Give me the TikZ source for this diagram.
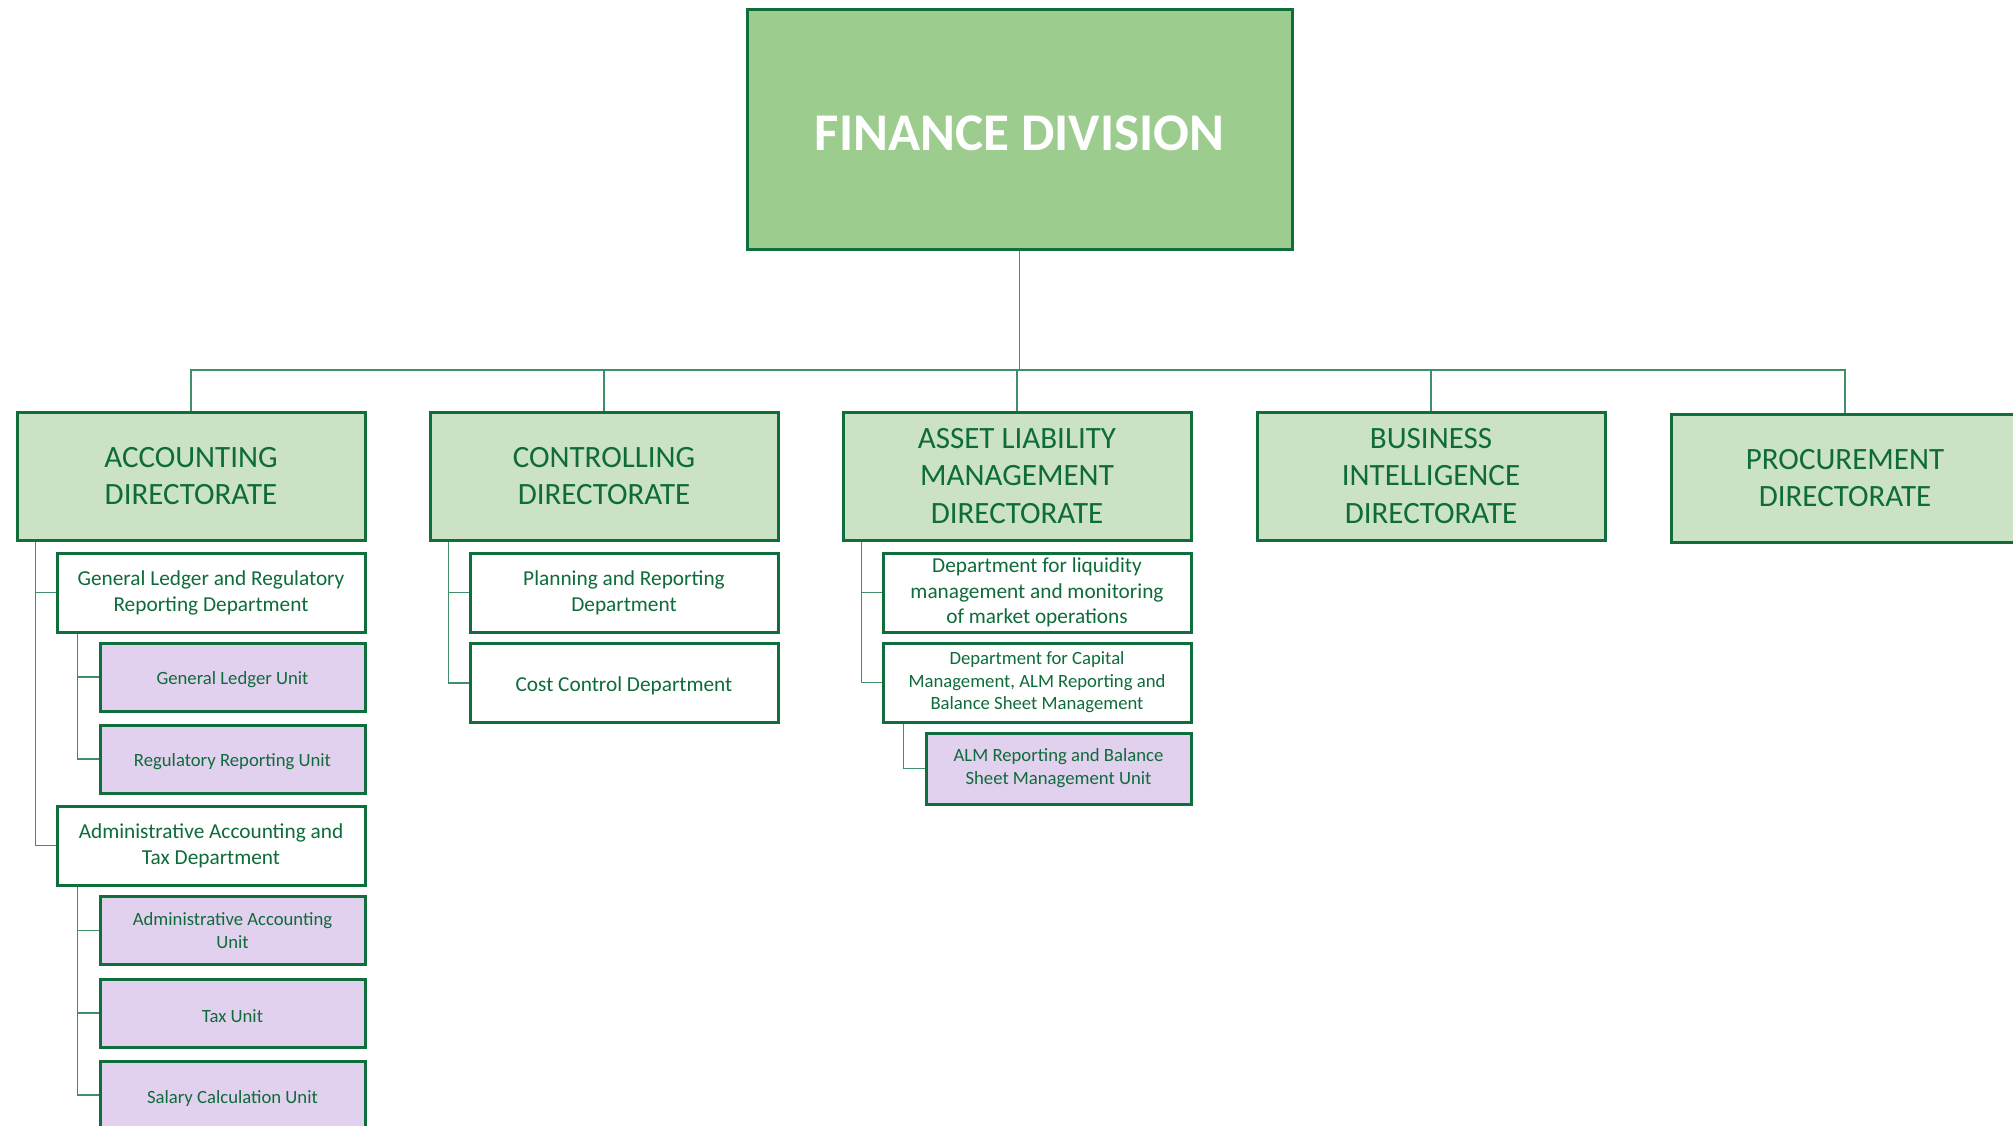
\documentclass[tikz,border=0pt]{standalone}
\usepackage{fontspec}
\setmainfont{Carlito}

\definecolor{boxgreen}{HTML}{0F6E3C}
\definecolor{txtgreen}{HTML}{0E6B3A}
\definecolor{linegreen}{HTML}{3F8F68}
\definecolor{divfill}{HTML}{9DCC8F}
\definecolor{dirfill}{HTML}{CCE2C4}
\definecolor{unitfill}{HTML}{E2D0EF}

\tikzset{
  orgbox/.style={draw=boxgreen, line width=3pt, align=center, text=txtgreen, inner sep=2pt,
    execute at begin node={\rule{0pt}{\dimexpr\fontcharht\font`l+6pt\relax}}},
  divbox/.style={orgbox, fill=divfill, text=white, minimum width=545pt, minimum height=240pt,
    font=\bfseries\fontsize{53}{60}\selectfont},
  dirbox/.style={orgbox, fill=dirfill, minimum width=348pt, minimum height=128pt,
    font=\fontsize{31}{37.6}\selectfont},
  deptbox/.style={orgbox, fill=white, minimum width=308pt, minimum height=79pt,
    font=\fontsize{21.3}{26}\selectfont},
  unitbox/.style={orgbox, fill=unitfill, minimum width=265pt, minimum height=68pt,
    font=\fontsize{18.7}{23}\selectfont},
  link/.style={draw=linegreen, line width=1.4pt},
}

\begin{document}
\begin{tikzpicture}[x=1pt,y=-1pt]
\useasboundingbox (0,0) rectangle (2013,1125);

\node[divbox] (fin) at (1019.5,129) {FINANCE DIVISION};

% directorates
\node[dirbox] (acc) at (191,476) {ACCOUNTING\\DIRECTORATE};
\node[dirbox] (ctrl) at (604,476) {CONTROLLING\\DIRECTORATE};
\node[dirbox] (alm) at (1017,476) {ASSET LIABILITY\\MANAGEMENT\\DIRECTORATE};
\node[dirbox] (bi) at (1431,476) {BUSINESS\\INTELLIGENCE\\DIRECTORATE};
\node[dirbox] (proc) at (1845,478) {PROCUREMENT\\DIRECTORATE};

% accounting
\node[deptbox] (gld) at (211,592.5) {General Ledger and Regulatory\\Reporting Department};
\node[unitbox] (glu) at (232.5,677) {General Ledger Unit};
\node[unitbox] (rru) at (232.5,759) {Regulatory Reporting Unit};
\node[deptbox] (aad) at (211,845.5) {Administrative Accounting and\\Tax Department};
\node[unitbox] (aau) at (232.5,930.5) {Administrative Accounting\\Unit};
\node[unitbox] (tax) at (232.5,1013) {Tax Unit};
\node[unitbox] (sal) at (232.5,1095) {Salary Calculation Unit};

% controlling
\node[deptbox] (pln) at (624,592.5) {Planning and Reporting\\Department};
\node[deptbox] (cost) at (624,683) {Cost Control Department};

% asset liability
\node[deptbox, font=\fontsize{21.3}{25.5}\selectfont] (liq) at (1037,592.5)
  {Department for liquidity\\management and monitoring\\of market operations};
\node[deptbox, font=\fontsize{18.7}{22.5}\selectfont] (cap) at (1037,682.5)
  {Department for Capital\\Management, ALM Reporting and\\Balance Sheet Management};
\node[unitbox, minimum height=71pt] (almu) at (1058.5,768.5) {ALM Reporting and Balance\\Sheet Management Unit};

% lines
\coordinate (busy) at (0,370);
\draw[link] (fin.south) -- (fin.south |- busy);
\draw[link] (acc.north) -- (acc.north |- busy) -- (proc.north |- busy) -- (proc.north);
\foreach \d in {ctrl,alm,bi} \draw[link] (\d.north) -- (\d.north |- busy);

\draw[link] ([xshift=20pt]acc.south west) |- (gld.west);
\draw[link] ([xshift=20pt]acc.south west) |- (aad.west);
\foreach \u in {glu,rru} \draw[link] ([xshift=22pt]gld.south west) |- (\u.west);
\foreach \u in {aau,tax,sal} \draw[link] ([xshift=22pt]aad.south west) |- (\u.west);

\foreach \d in {pln,cost} \draw[link] ([xshift=20pt]ctrl.south west) |- (\d.west);
\foreach \d in {liq,cap} \draw[link] ([xshift=20pt]alm.south west) |- (\d.west);
\draw[link] ([xshift=22pt]cap.south west) |- (almu.west);

\end{tikzpicture}
\end{document}
